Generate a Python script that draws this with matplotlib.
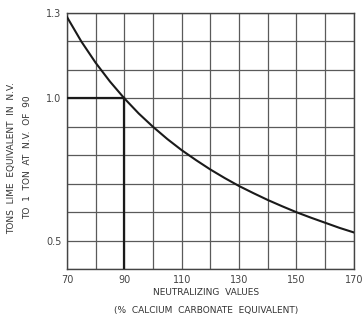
import matplotlib
matplotlib.use("Agg")
from matplotlib import pyplot as plt

# values
nv = [70, 75, 80, 85, 90, 95, 100, 105, 110, 115, 120, 125, 130, 135, 140, 145, 150, 155, 160, 165, 170]
tons = [1.286, 1.20, 1.125, 1.059, 1.0, 0.947, 0.90, 0.857, 0.818, 0.783, 0.75, 0.72, 0.692, 0.667,
        0.643, 0.621, 0.60, 0.581, 0.563, 0.545, 0.529]

x_ticks = [70, 80, 90, 100, 110, 120, 130, 140, 150, 160, 170]
x_labels = ["70", "", "90", "", "110", "", "130", "", "150", "", "170"]
y_ticks = [0.4, 0.5, 0.6, 0.7, 0.8, 0.9, 1.0, 1.1, 1.2, 1.3]
y_labels = ["", "0.5", "", "", "", "", "1.0", "", "", "1.3"]

ref_nv = 90
ref_tons = 1.0

fig = plt.figure(figsize=(3.64, 3.17), dpi=100)
ax = fig.add_axes([0.184, 0.151, 0.788, 0.808])

ax.plot(nv, tons, color="#1a1a1a", lw=1.5, zorder=3)
# reference lines at N.V. of 90
ax.plot([ref_nv, ref_nv], [0.4, ref_tons], color="#1a1a1a", lw=1.6, zorder=3)
ax.plot([70, ref_nv], [ref_tons, ref_tons], color="#1a1a1a", lw=1.6, zorder=3)

ax.set_xlim(70, 170)
ax.set_ylim(0.4, 1.3)
ax.set_xticks(x_ticks)
ax.set_xticklabels(x_labels)
ax.set_yticks(y_ticks)
ax.set_yticklabels(y_labels)
ax.tick_params(length=0, labelsize=7, colors="#444444", pad=4)
ax.grid(True, color="#5a5a5a", lw=0.9)
ax.set_axisbelow(True)
for s in ax.spines.values():
    s.set_color("#444444")
    s.set_linewidth(1.0)

txt = dict(ha="center", va="center", fontsize=6.5, color="#333333")
fig.text(0.565, 0.076, "NEUTRALIZING  VALUES", **txt)
fig.text(0.565, 0.022, "(%  CALCIUM  CARBONATE  EQUIVALENT)", **txt)
fig.text(0.033, 0.5, "TONS  LIME  EQUIVALENT  IN  N.V.", rotation=90, **txt)
fig.text(0.075, 0.505, "TO  1  TON  AT  N.V.  OF  90", rotation=90, **txt)

fig.savefig("out.png", dpi=100)
